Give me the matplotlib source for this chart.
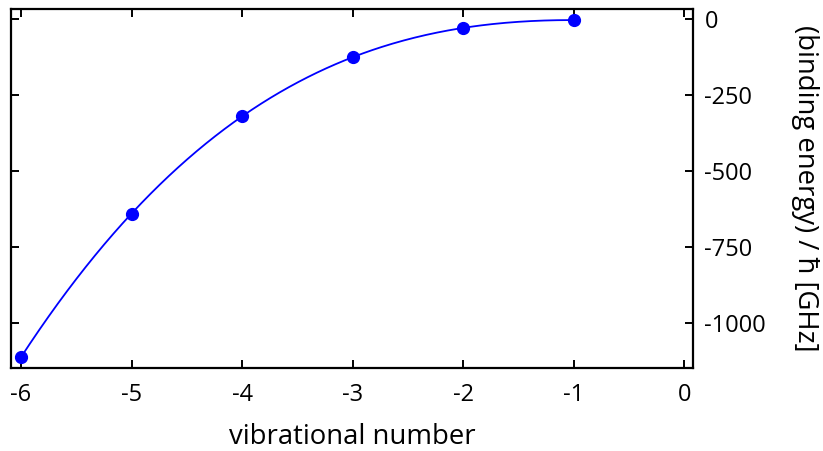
import numpy as np
import matplotlib
matplotlib.use("Agg")
import matplotlib.pyplot as plt

plt.rcParams['font.family'] = ['Open Sans', 'DejaVu Sans']
plt.rcParams['font.size'] = 17

# binding energies of the last bound vibrational levels
vib_number = [-6, -5, -4, -3, -2, -1]
binding_energy = [-1112, -641, -319, -125, -30, -3]

x_ticks = [-6, -5, -4, -3, -2, -1, 0]
y_ticks = [0, -250, -500, -750, -1000]

fig = plt.figure(figsize=(8.23, 4.51), dpi=100)
ax = fig.add_axes([0.0134, 0.184, 0.829, 0.796])

# smooth cubic fit through the levels
coef = np.polyfit(vib_number, binding_energy, 3)
xs = np.linspace(min(vib_number), max(vib_number), 300)
ax.plot(xs, np.polyval(coef, xs), color='#0000ff', lw=1.3)
ax.plot(vib_number, binding_energy, 'o', color='#0000ff', ms=8.5)

ax.set_xlim(-6.09, 0.08)
ax.set_ylim(-1148, 33)
ax.set_xticks(x_ticks)
ax.set_xticklabels([str(t) for t in x_ticks])
ax.set_yticks(y_ticks)
ax.set_yticklabels([str(t) for t in y_ticks])

ax.tick_params(direction='in', length=6, width=1.4, top=True, bottom=True,
               left=True, right=True, labelleft=False, labelright=True)
ax.tick_params(axis='x', pad=11)
ax.tick_params(axis='y', pad=8)
for s in ax.spines.values():
    s.set_linewidth(1.6)

ax.set_xlabel('vibrational number', fontsize=19.8, labelpad=11)
ax.yaxis.set_label_position('right')
ax.set_ylabel('(binding energy) / ħ [GHz]', fontsize=19.8, rotation=270, labelpad=38)

fig.savefig('out.png', dpi=100)
